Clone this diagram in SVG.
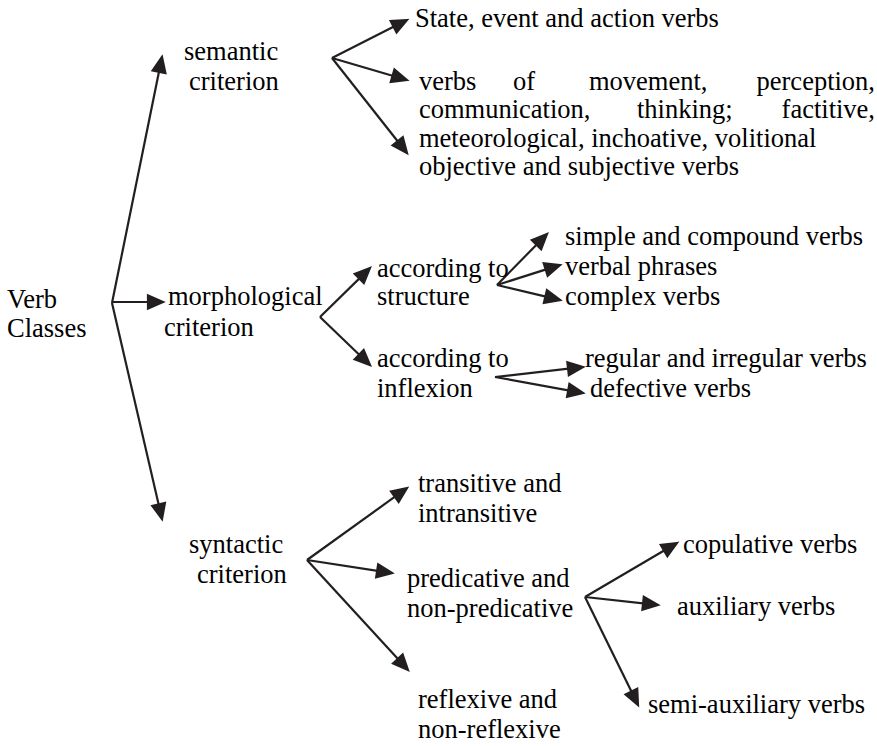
<svg xmlns="http://www.w3.org/2000/svg" width="877" height="746" viewBox="0 0 877 746">
<defs>
<path id="ah" d="M0,0 L-15,-6.5 L-15,6.5 z" fill="#231f20"/>
</defs>
<rect width="877" height="746" fill="#fff"/>
<g id="connectors" stroke="#231f20" stroke-width="2.2" fill="none">
<path d="M112,303 L160.4,64.8"/><use href="#ah" transform="translate(162,57) rotate(-78.51)"/>
<path d="M112,302 L155,302"/><use href="#ah" transform="translate(163,302)"/>
<path d="M112,303 L160.2,511.2"/><use href="#ah" transform="translate(162,519) rotate(76.97)"/>
<path d="M332,58 L399.9,23.6"/><use href="#ah" transform="translate(407,20) rotate(-26.87)"/>
<path d="M332,58 L399.3,77.7"/><use href="#ah" transform="translate(407,80) rotate(16.35)"/>
<path d="M332,58 L402,146.7"/><use href="#ah" transform="translate(407,153) rotate(51.71)"/>
<path d="M320,317 L364.3,273.6"/><use href="#ah" transform="translate(370,268) rotate(-44.42)"/>
<path d="M320,317 L364.2,359.5"/><use href="#ah" transform="translate(370,365) rotate(43.83)"/>
<path d="M497,285 L541.4,239.7"/><use href="#ah" transform="translate(547,234) rotate(-45.56)"/>
<path d="M497,285 L552.4,267.4"/><use href="#ah" transform="translate(560,265) rotate(-17.61)"/>
<path d="M497,285 L552.2,298.1"/><use href="#ah" transform="translate(560,300) rotate(13.39)"/>
<path d="M495,377 L575.1,367.9"/><use href="#ah" transform="translate(583,367) rotate(-6.48)"/>
<path d="M495,377 L575.1,391.6"/><use href="#ah" transform="translate(583,393) rotate(10.3)"/>
<path d="M307,560 L400.5,492.7"/><use href="#ah" transform="translate(407,488) rotate(-35.75)"/>
<path d="M307,560 L384.1,571.8"/><use href="#ah" transform="translate(392,573) rotate(8.7)"/>
<path d="M307,560 L402.6,664.1"/><use href="#ah" transform="translate(408,670) rotate(47.44)"/>
<path d="M585,597 L670.1,547"/><use href="#ah" transform="translate(677,543) rotate(-30.41)"/>
<path d="M585,597 L650,604.1"/><use href="#ah" transform="translate(658,605) rotate(6.25)"/>
<path d="M585,597 L634.5,697.8"/><use href="#ah" transform="translate(638,705) rotate(63.86)"/>
</g>
<g id="verb-classes"><text font-family="Liberation Serif, serif" font-size="26.5" x="7" y="308">Verb</text><text font-family="Liberation Serif, serif" font-size="26.5" x="7" y="337">Classes</text></g>
<g id="semantic"><text font-family="Liberation Serif, serif" font-size="26.5" x="184" y="60">semantic</text><text font-family="Liberation Serif, serif" font-size="26.5" x="189" y="90">criterion</text></g>
<g id="state"><text font-family="Liberation Serif, serif" font-size="26.5" x="415" y="27">State, event and action verbs</text></g>
<g id="verbs-of">
<text font-family="Liberation Serif, serif" font-size="26.5" y="90"><tspan x="419">verbs</tspan><tspan x="513">of</tspan><tspan x="589">movement,</tspan><tspan x="875" text-anchor="end">perception,</tspan></text>
<text font-family="Liberation Serif, serif" font-size="26.5" y="118"><tspan x="419">communication,</tspan><tspan x="637">thinking;</tspan><tspan x="875" text-anchor="end">factitive,</tspan></text>
<text font-family="Liberation Serif, serif" font-size="26.5" x="419" y="147">meteorological, inchoative, volitional</text>
<text font-family="Liberation Serif, serif" font-size="26.5" x="419" y="175">objective and subjective verbs</text>
</g>
<g id="morphological"><text font-family="Liberation Serif, serif" font-size="26.5" x="168" y="305">morphological</text><text font-family="Liberation Serif, serif" font-size="26.5" x="164" y="336">criterion</text></g>
<g id="structure"><text font-family="Liberation Serif, serif" font-size="26.5" x="377" y="277">according to</text><text font-family="Liberation Serif, serif" font-size="26.5" x="377" y="305">structure</text></g>
<g id="inflexion"><text font-family="Liberation Serif, serif" font-size="26.5" x="377" y="367">according to</text><text font-family="Liberation Serif, serif" font-size="26.5" x="377" y="397">inflexion</text></g>
<g id="simple"><text font-family="Liberation Serif, serif" font-size="26.5" x="565" y="245">simple and compound verbs</text></g>
<g id="phrases"><text font-family="Liberation Serif, serif" font-size="26.5" x="565" y="275">verbal phrases</text></g>
<g id="complex"><text font-family="Liberation Serif, serif" font-size="26.5" x="565" y="305">complex verbs</text></g>
<g id="regular"><text font-family="Liberation Serif, serif" font-size="26.5" x="585" y="367">regular and irregular verbs</text></g>
<g id="defective"><text font-family="Liberation Serif, serif" font-size="26.5" x="590" y="397">defective verbs</text></g>
<g id="syntactic"><text font-family="Liberation Serif, serif" font-size="26.5" x="189" y="553">syntactic</text><text font-family="Liberation Serif, serif" font-size="26.5" x="197" y="583">criterion</text></g>
<g id="transitive"><text font-family="Liberation Serif, serif" font-size="26.5" x="418" y="492">transitive and</text><text font-family="Liberation Serif, serif" font-size="26.5" x="418" y="522">intransitive</text></g>
<g id="predicative"><text font-family="Liberation Serif, serif" font-size="26.5" x="407" y="587">predicative and</text><text font-family="Liberation Serif, serif" font-size="26.5" x="407" y="617">non-predicative</text></g>
<g id="reflexive"><text font-family="Liberation Serif, serif" font-size="26.5" x="418" y="708">reflexive and</text><text font-family="Liberation Serif, serif" font-size="26.5" x="418" y="738">non-reflexive</text></g>
<g id="copulative"><text font-family="Liberation Serif, serif" font-size="26.5" x="683" y="553">copulative verbs</text></g>
<g id="auxiliary"><text font-family="Liberation Serif, serif" font-size="26.5" x="677" y="615">auxiliary verbs</text></g>
<g id="semi"><text font-family="Liberation Serif, serif" font-size="26.5" x="648" y="713">semi-auxiliary verbs</text></g>
</svg>
